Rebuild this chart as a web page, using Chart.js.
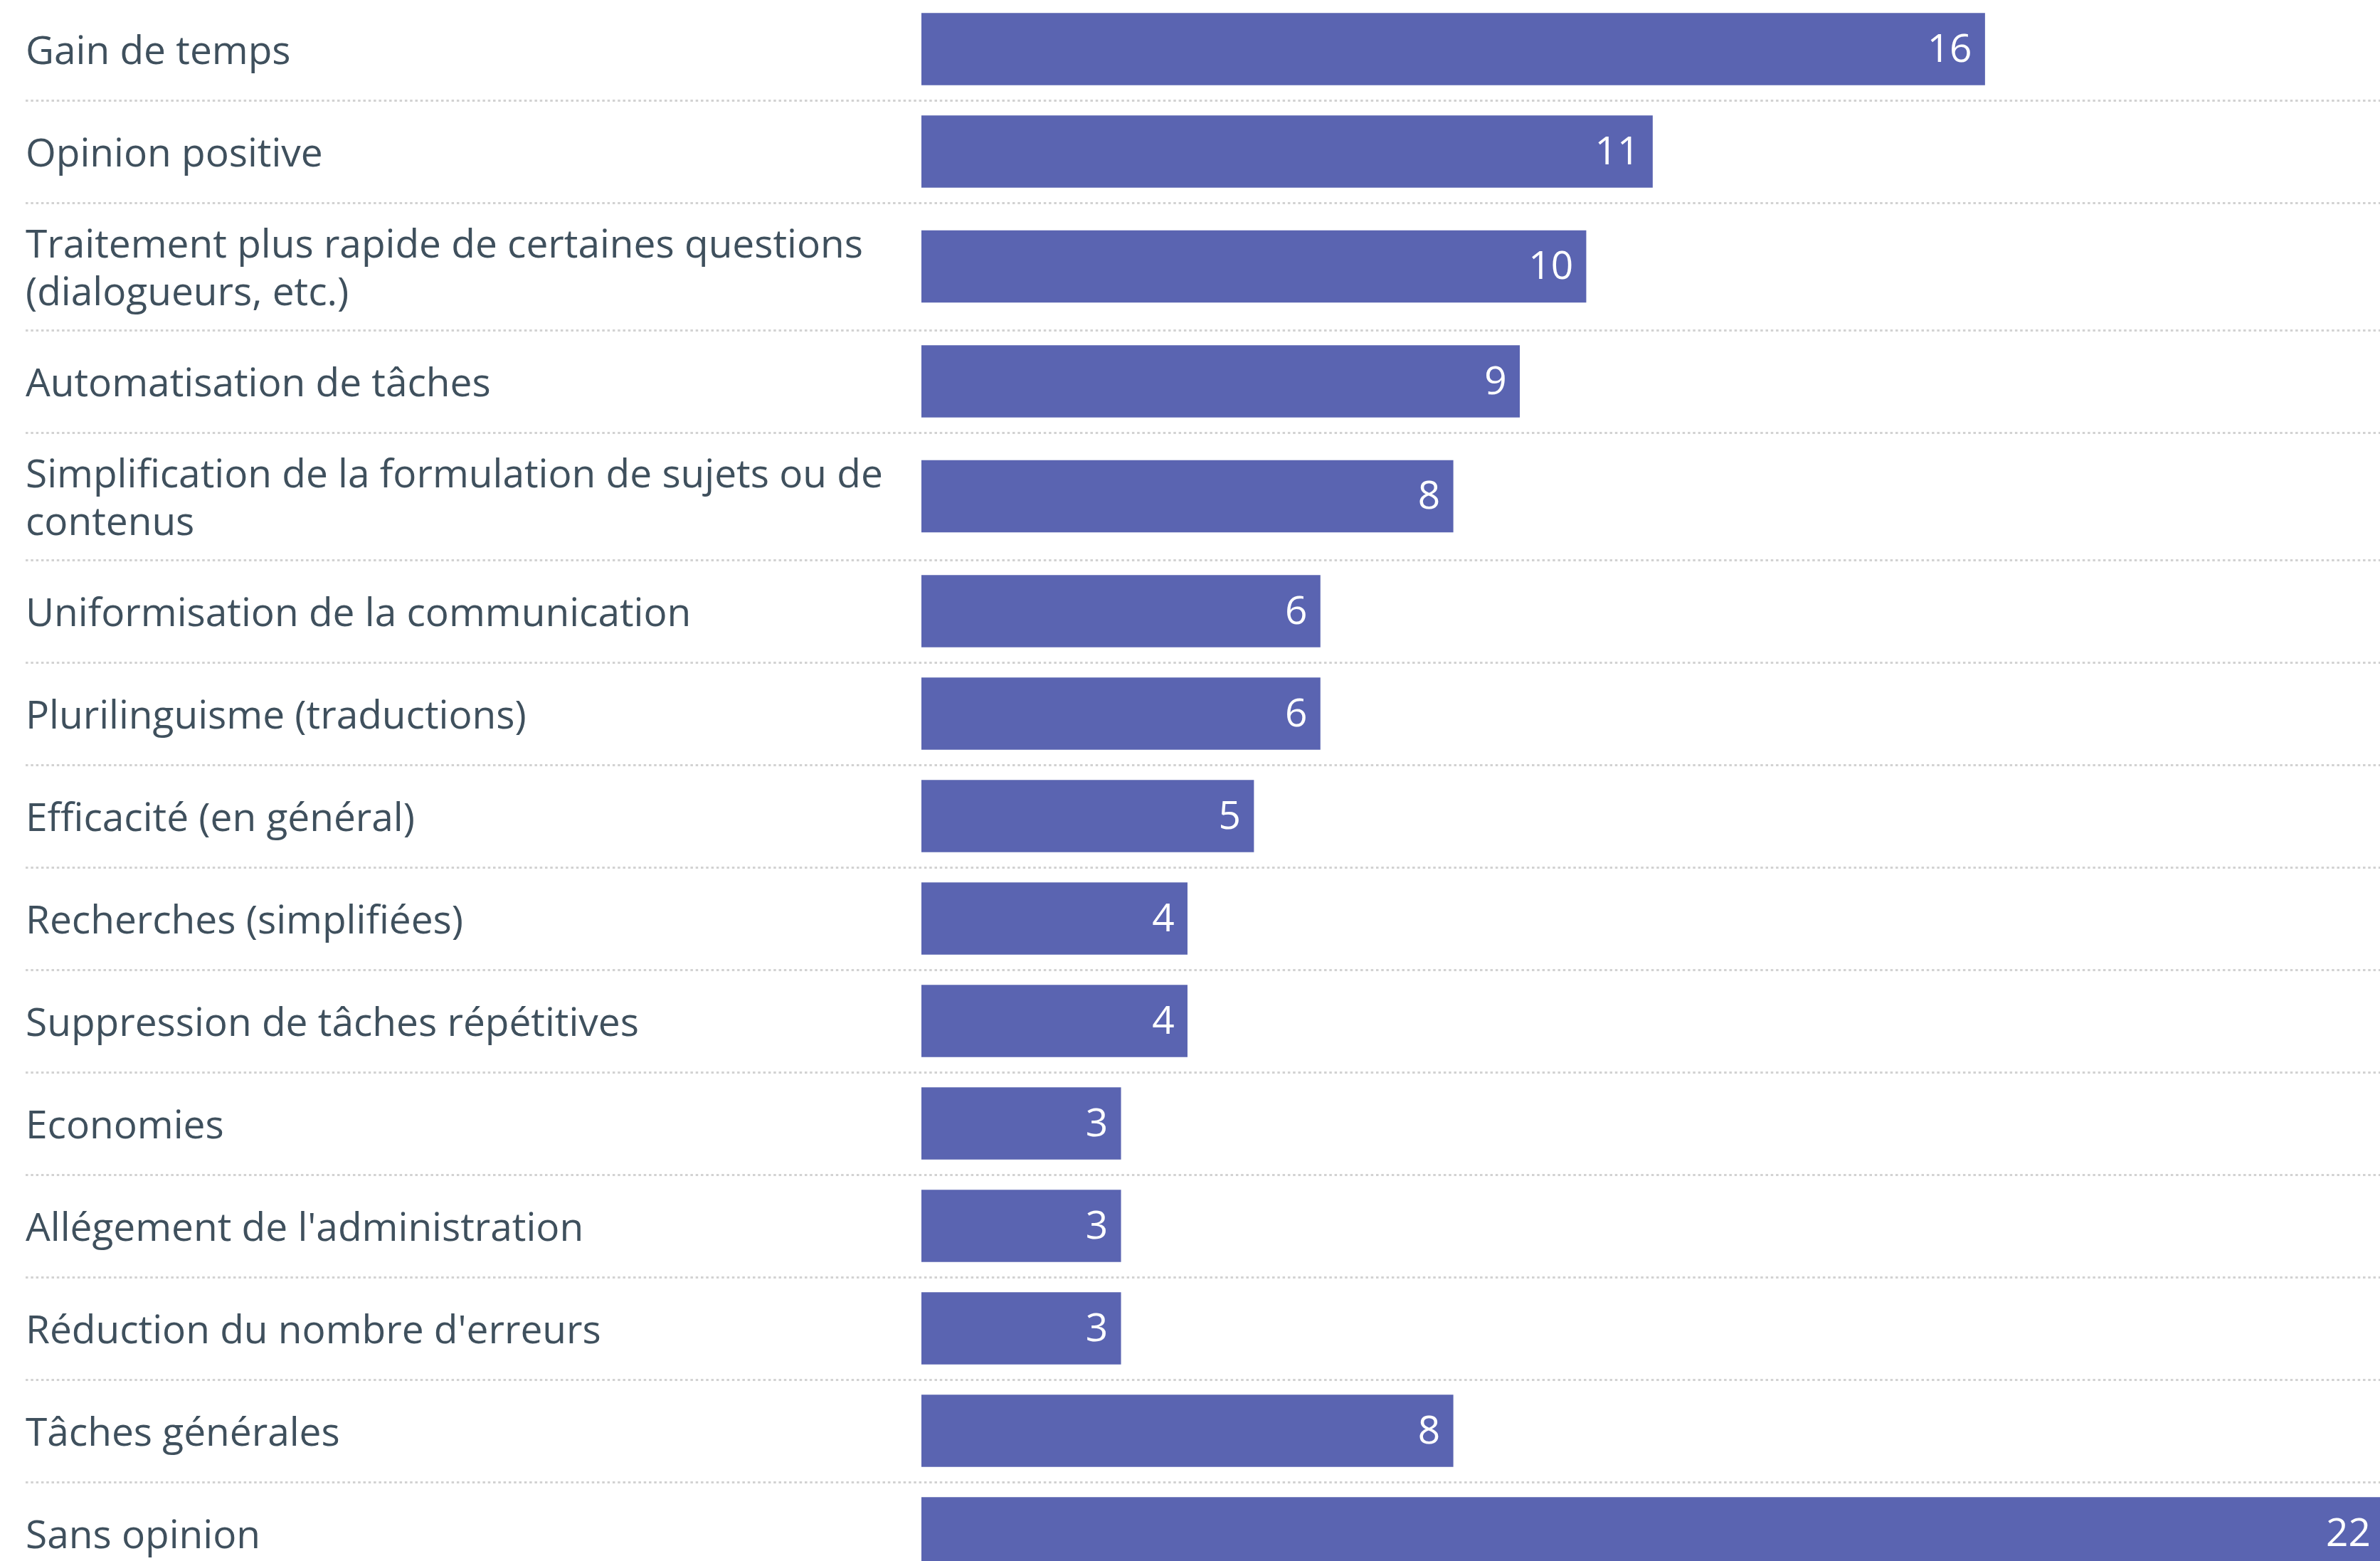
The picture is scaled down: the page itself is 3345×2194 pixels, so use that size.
<!DOCTYPE html>
<html lang="fr">
<head>
<meta charset="utf-8">
<title>Avantages</title>
<script src="https://cdn.jsdelivr.net/npm/chart.js@4.4.1/dist/chart.umd.min.js"></script>
<style>
  html, body { margin: 0; padding: 0; background: #fff; overflow: hidden; }
  #wrap { position: absolute; left: 0; top: -3px; width: 3350px; height: 2230px; }
</style>
</head>
<body>
<div id="wrap"><canvas id="chart"></canvas></div>
<script>
(function () {
  // labels, already broken into lines as in the reference
  const categories = [
    ["Gain de temps"],
    ["Opinion positive"],
    ["Traitement plus rapide de certaines questions", "(dialogueurs, etc.)"],
    ["Automatisation de tâches"],
    ["Simplification de la formulation de sujets ou de", "contenus"],
    ["Uniformisation de la communication"],
    ["Plurilinguisme (traductions)"],
    ["Efficacité (en général)"],
    ["Recherches (simplifiées)"],
    ["Suppression de tâches répétitives"],
    ["Economies"],
    ["Allégement de l'administration"],
    ["Réduction du nombre d'erreurs"],
    ["Tâches générales"],
    ["Sans opinion"],
  ];
  const values = [16, 11, 10, 9, 8, 6, 6, 5, 4, 4, 3, 3, 3, 8, 22];
  const valueMax = 22;

  const BAR_COLOR = "#5a64b1";
  const TEXT_COLOR = "#3f505d";
  const FONT = "'Open Sans', 'Noto Sans', sans-serif";
  const FONT_SIZE = 55;

  // a two-line label makes its row a bit taller than a one-line row
  const rowUnits = categories.map((lines) => (lines.length > 1 ? 1.243 : 1));
  const boundaries = [0];
  rowUnits.forEach((u, i) => boundaries.push(boundaries[i] + u));
  const centers = rowUnits.map((u, i) => boundaries[i] + u / 2);
  const total = boundaries[boundaries.length - 1];

  const points = values.map((v, i) => ({ x: v, y: centers[i] }));

  const rowRules = {
    id: "rowRules",
    beforeDatasetsDraw(chart) {
      const yScale = chart.scales.y;
      const ctx = chart.ctx;
      ctx.save();
      ctx.strokeStyle = "#d2d2d2";
      ctx.lineWidth = 3;
      ctx.setLineDash([3.5, 3.8]);
      boundaries.slice(1, -1).forEach((b) => {
        const y = Math.round(yScale.getPixelForValue(b)) + 0.5;
        ctx.beginPath();
        ctx.moveTo(36, y);
        ctx.lineTo(chart.width, y);
        ctx.stroke();
      });
      ctx.restore();
    },
  };

  const valueLabels = {
    id: "valueLabels",
    afterDatasetsDraw(chart) {
      const ctx = chart.ctx;
      const meta = chart.getDatasetMeta(0);
      ctx.save();
      ctx.fillStyle = "#ffffff";
      ctx.font = `${FONT_SIZE}px ${FONT}`;
      ctx.textAlign = "right";
      ctx.textBaseline = "middle";
      meta.data.forEach((bar, i) => {
        ctx.fillText(String(values[i]), bar.x - 18, bar.y + 2);
      });
      ctx.restore();
    },
  };

  new Chart(document.getElementById("chart"), {
    type: "bar",
    data: {
      datasets: [{
        data: points,
        backgroundColor: BAR_COLOR,
        borderWidth: 0,
        barThickness: 101,
      }],
    },
    options: {
      indexAxis: "y",
      responsive: true,
      maintainAspectRatio: false,
      animation: false,
      layout: { autoPadding: false, padding: { left: 36, right: 0, top: 0, bottom: 0 } },
      plugins: {
        legend: { display: false },
        tooltip: { enabled: false },
      },
      scales: {
        x: {
          type: "linear",
          display: false,
          min: 0,
          max: valueMax,
        },
        y: {
          type: "linear",
          reverse: true,
          offset: false,
          grace: 0,
          min: 0,
          max: total,
          afterBuildTicks(scale) {
            scale.ticks = centers.map((c) => ({ value: c }));
          },
          afterFit(scale) {
            scale.width = 1295 - 36;
            scale.paddingTop = 0;
            scale.paddingBottom = 0;
          },
          ticks: {
            autoSkip: false,
            crossAlign: "far",
            padding: 0,
            labelOffset: 5,
            color: TEXT_COLOR,
            font: { family: FONT, size: FONT_SIZE, lineHeight: 1.22 },
            callback(value, index) {
              return categories[index];
            },
          },
          grid: { display: false, drawTicks: false, offset: false },
          border: { display: false },
        },
      },
    },
    plugins: [rowRules, valueLabels],
  });
})();
</script>
</body>
</html>
